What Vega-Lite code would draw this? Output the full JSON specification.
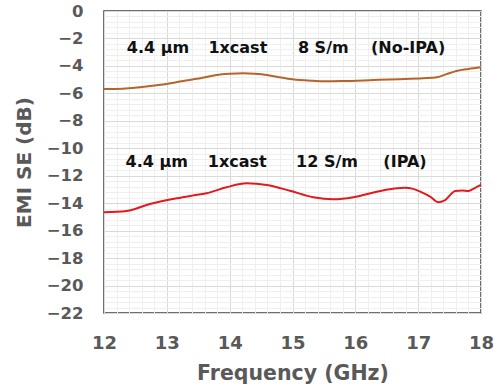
{
  "$schema": "https://vega.github.io/schema/vega-lite/v6.json",
  "width": 377,
  "height": 302,
  "autosize": {"type": "none"},
  "padding": {"left": 104, "top": 11, "right": 13, "bottom": 76},
  "background": "white",
  "config": {
    "view": {"stroke": "#404040", "strokeWidth": 1.5},
    "font": "DejaVu Sans"
  },
  "datasets": {
    "curves": [
      {"f": 12.0, "se": -5.68, "s": "No-IPA"},
      {"f": 12.3, "se": -5.66, "s": "No-IPA"},
      {"f": 12.57, "se": -5.56, "s": "No-IPA"},
      {"f": 12.9, "se": -5.38, "s": "No-IPA"},
      {"f": 13.26, "se": -5.1, "s": "No-IPA"},
      {"f": 13.55, "se": -4.88, "s": "No-IPA"},
      {"f": 13.79, "se": -4.66, "s": "No-IPA"},
      {"f": 14.0, "se": -4.57, "s": "No-IPA"},
      {"f": 14.22, "se": -4.53, "s": "No-IPA"},
      {"f": 14.4, "se": -4.57, "s": "No-IPA"},
      {"f": 14.59, "se": -4.66, "s": "No-IPA"},
      {"f": 14.78, "se": -4.82, "s": "No-IPA"},
      {"f": 14.96, "se": -4.95, "s": "No-IPA"},
      {"f": 15.2, "se": -5.05, "s": "No-IPA"},
      {"f": 15.49, "se": -5.12, "s": "No-IPA"},
      {"f": 15.8, "se": -5.1, "s": "No-IPA"},
      {"f": 16.29, "se": -5.03, "s": "No-IPA"},
      {"f": 16.7, "se": -4.97, "s": "No-IPA"},
      {"f": 17.08, "se": -4.9, "s": "No-IPA"},
      {"f": 17.3, "se": -4.83, "s": "No-IPA"},
      {"f": 17.45, "se": -4.6, "s": "No-IPA"},
      {"f": 17.61, "se": -4.37, "s": "No-IPA"},
      {"f": 17.8, "se": -4.22, "s": "No-IPA"},
      {"f": 18.0, "se": -4.1, "s": "No-IPA"},
      {"f": 12.0, "se": -14.66, "s": "IPA"},
      {"f": 12.36, "se": -14.57, "s": "IPA"},
      {"f": 12.73, "se": -14.06, "s": "IPA"},
      {"f": 13.16, "se": -13.64, "s": "IPA"},
      {"f": 13.4, "se": -13.45, "s": "IPA"},
      {"f": 13.63, "se": -13.28, "s": "IPA"},
      {"f": 13.95, "se": -12.84, "s": "IPA"},
      {"f": 14.27, "se": -12.55, "s": "IPA"},
      {"f": 14.59, "se": -12.67, "s": "IPA"},
      {"f": 14.96, "se": -13.09, "s": "IPA"},
      {"f": 15.33, "se": -13.57, "s": "IPA"},
      {"f": 15.65, "se": -13.72, "s": "IPA"},
      {"f": 15.97, "se": -13.57, "s": "IPA"},
      {"f": 16.34, "se": -13.16, "s": "IPA"},
      {"f": 16.6, "se": -12.95, "s": "IPA"},
      {"f": 16.79, "se": -12.87, "s": "IPA"},
      {"f": 16.92, "se": -12.96, "s": "IPA"},
      {"f": 17.05, "se": -13.2, "s": "IPA"},
      {"f": 17.19, "se": -13.52, "s": "IPA"},
      {"f": 17.32, "se": -13.93, "s": "IPA"},
      {"f": 17.43, "se": -13.77, "s": "IPA"},
      {"f": 17.59, "se": -13.11, "s": "IPA"},
      {"f": 17.7, "se": -13.08, "s": "IPA"},
      {"f": 17.8, "se": -13.11, "s": "IPA"},
      {"f": 17.9, "se": -12.9, "s": "IPA"},
      {"f": 18.0, "se": -12.67, "s": "IPA"}
    ],
    "labels": [
      {"f": 12.86, "se": -2.7, "t": "4.4 µm"},
      {"f": 14.13, "se": -2.7, "t": "1xcast"},
      {"f": 15.49, "se": -2.7, "t": "8 S/m"},
      {"f": 16.84, "se": -2.7, "t": "(No-IPA)"},
      {"f": 12.84, "se": -11.0, "t": "4.4 µm"},
      {"f": 14.12, "se": -11.0, "t": "1xcast"},
      {"f": 15.55, "se": -11.0, "t": "12 S/m"},
      {"f": 16.79, "se": -11.0, "t": "(IPA)"}
    ]
  },
  "resolve": {"axis": {"x": "independent", "y": "independent"}},
  "layer": [
    {
      "data": {"name": "labels"},
      "mark": {"type": "text", "font": "DejaVu Sans", "fontWeight": "bold", "fontSize": 16, "color": "#111111", "align": "center", "baseline": "middle"},
      "encoding": {
        "x": {
          "field": "f", "type": "quantitative",
          "scale": {"domain": [12, 18], "nice": false, "zero": false},
          "axis": {
            "orient": "bottom", "title": null, "labels": false, "ticks": false, "domain": false,
            "grid": true, "gridColor": "#efefef", "gridWidth": 1,
            "values": [12.2, 12.4, 12.6, 12.8, 13.2, 13.4, 13.6, 13.8, 14.2, 14.4, 14.6, 14.8, 15.2, 15.4, 15.6, 15.8, 16.2, 16.4, 16.6, 16.8, 17.2, 17.4, 17.6, 17.8]
          }
        },
        "y": {
          "field": "se", "type": "quantitative",
          "scale": {"domain": [-22, 0], "nice": false, "zero": false},
          "axis": {
            "orient": "left", "title": null, "labels": false, "ticks": false, "domain": false,
            "grid": true, "gridColor": "#efefef", "gridWidth": 1,
            "values": [-21.6, -21.2, -20.8, -20.4, -19.6, -19.2, -18.8, -18.4, -17.6, -17.2, -16.8, -16.4, -15.6, -15.2, -14.8, -14.4, -13.6, -13.2, -12.8, -12.4, -11.6, -11.2, -10.8, -10.4, -9.6, -9.2, -8.8, -8.4, -7.6, -7.2, -6.8, -6.4, -5.6, -5.2, -4.8, -4.4, -3.6, -3.2, -2.8, -2.4, -1.6, -1.2, -0.8, -0.4]
          }
        },
        "text": {"field": "t"}
      }
    },
    {
      "data": {"name": "curves"},
      "mark": {"type": "line", "strokeWidth": 2, "interpolate": "monotone"},
      "encoding": {
        "x": {
          "field": "f", "type": "quantitative",
          "scale": {"domain": [12, 18], "nice": false, "zero": false},
          "axis": {
            "orient": "bottom",
            "title": "Frequency (GHz)",
            "values": [12, 13, 14, 15, 16, 17, 18],
            "format": "d",
            "ticks": false,
            "domain": false,
            "grid": true,
            "gridColor": "#d9d9d9",
            "labelFont": "DejaVu Sans", "labelFontWeight": "bold", "labelFontSize": 18, "labelColor": "#595959",
            "labelPadding": 21, "labelFlush": false, "labelOverlap": false,
            "titleFont": "DejaVu Sans", "titleFontWeight": "bold", "titleFontSize": 20.5, "titleColor": "#595959",
            "titlePadding": 11
          }
        },
        "y": {
          "field": "se", "type": "quantitative",
          "scale": {"domain": [-22, 0], "nice": false, "zero": false},
          "axis": {
            "orient": "left",
            "title": "EMI SE (dB)",
            "values": [-22, -20, -18, -16, -14, -12, -10, -8, -6, -4, -2, 0],
            "format": "d",
            "ticks": false,
            "domain": false,
            "grid": true,
            "gridColor": "#d9d9d9",
            "labelFont": "DejaVu Sans", "labelFontWeight": "bold", "labelFontSize": 16.5, "labelColor": "#595959",
            "labelPadding": 21, "labelFlush": false, "labelOverlap": false,
            "titleFont": "DejaVu Sans", "titleFontWeight": "bold", "titleFontSize": 20, "titleColor": "#595959",
            "titlePadding": 12
          }
        },
        "color": {
          "field": "s", "type": "nominal",
          "scale": {"domain": ["No-IPA", "IPA"], "range": ["#b5652a", "#e31a1c"]},
          "legend": null
        }
      }
    }
  ]
}
